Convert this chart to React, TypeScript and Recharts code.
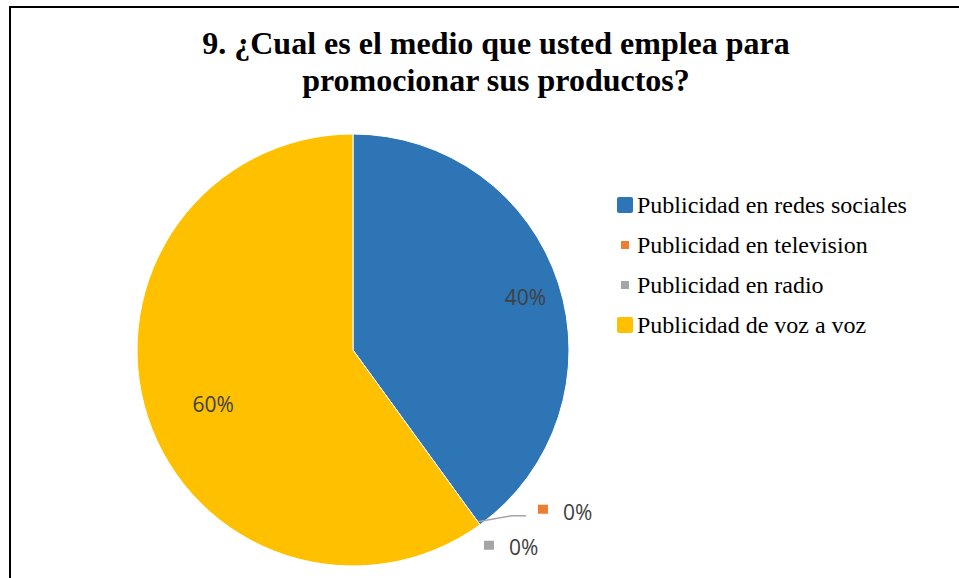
import { PieChart, Pie, Cell, Legend } from 'recharts';

const titleLines = ['9. ¿Cual es el medio que usted emplea para', 'promocionar sus productos?'];
const categories = [
  'Publicidad en redes sociales',
  'Publicidad en television',
  'Publicidad en radio',
  'Publicidad de voz a voz',
];
const values = [40, 0, 0, 60];
const colors = ['#2E75B6', '#ED7D31', '#A5A5A5', '#FFC000'];

const data = categories.map((name, i) => ({ name, value: values[i] }));
const total = values.reduce((a, b) => a + b, 0);
const RAD = Math.PI / 180;
const SERIF = '"Liberation Serif"';
const SANS = '"Open Sans"';

const pctText = (v: number) => `${Math.round((v / total) * 100)}%`;

function renderLabel(props: any) {
  const { cx, cy, midAngle, outerRadius, index, value } = props;
  const cos = Math.cos(-midAngle * RAD);
  const sin = Math.sin(-midAngle * RAD);
  const labelStyle = { fontFamily: SANS, fontSize: 21, fill: '#404040' };

  if (value > 0) {
    // Excel "best fit" puts the small slice's label further out
    const share = value / total;
    const r = outerRadius * (share < 0.5 ? 0.84 : 0.68);
    return (
      <text key={`l-${index}`} x={cx + r * cos} y={cy + r * sin + (share < 0.5 ? 3 : 9)} textAnchor="middle" dominantBaseline="central" {...labelStyle}>
        {pctText(value)}
      </text>
    );
  }

  // zero slices: labels pushed out next to the edge with a marker
  const ex = cx + outerRadius * cos;
  const ey = cy + outerRadius * sin;
  if (index === 1) {
    return (
      <g key={`l-${index}`}>
        <polyline points={`${ex - 2},${ey - 3} ${ex + 32},${ey - 9} ${ex + 46},${ey - 9}`} fill="none" stroke="#A6A6A6" strokeWidth={1.5} />
        <rect x={ex + 58} y={ey - 20} width={10} height={9} fill={colors[index]} />
        <text x={ex + 83} y={ey - 13} dominantBaseline="central" {...labelStyle}>{pctText(value)}</text>
      </g>
    );
  }
  return (
    <g key={`l-${index}`}>
      <rect x={ex + 4} y={ey + 16} width={10} height={9} fill={colors[index]} />
      <text x={ex + 29} y={ey + 22} dominantBaseline="central" {...labelStyle}>{pctText(value)}</text>
    </g>
  );
}

function LegendBox() {
  return (
    <div style={{ fontFamily: SERIF, fontSize: 24, color: '#000' }}>
      {categories.map((c, i) => {
        const big = values[i] > 0;
        const s = big ? 16 : 8;
        return (
          <div key={c} style={{ display: 'flex', alignItems: 'center', height: 40 }}>
            <div style={{ width: 16, display: 'flex', justifyContent: 'center' }}>
              <div style={{ width: s, height: s, background: colors[i], borderRadius: big ? 2 : 0 }} />
            </div>
            <span style={{ marginLeft: 4, whiteSpace: 'nowrap' }}>{c}</span>
          </div>
        );
      })}
    </div>
  );
}

export default function App() {
  return (
    <div style={{ position: 'fixed', left: 0, top: 0, width: 959, height: 578, overflow: 'hidden', background: '#fff' }}>
      <div style={{ position: 'absolute', left: 9, top: 6, width: 974, height: 600, border: '2px solid #000', boxSizing: 'border-box' }}>
        <PieChart width={970} height={596} margin={{ top: 0, right: 0, bottom: 0, left: 0 }}>
          <Pie
            data={data}
            dataKey="value"
            nameKey="name"
            cx={342}
            cy={342}
            outerRadius={216}
            startAngle={90}
            endAngle={-270}
            stroke="#fff"
            strokeWidth={1}
            label={renderLabel}
            labelLine={false}
            isAnimationActive={false}
          >
            {data.map((d, i) => (
              <Cell key={d.name} fill={colors[i]} />
            ))}
          </Pie>
          <Legend
            layout="vertical"
            content={() => <LegendBox />}
            wrapperStyle={{ position: 'absolute', left: 606, top: 177, width: 360 }}
          />
        </PieChart>
        <div
          style={{
            position: 'absolute',
            left: 0,
            top: 17,
            width: '100%',
            textAlign: 'center',
            fontFamily: SERIF,
            fontWeight: 'bold',
            fontSize: 32,
            lineHeight: '37px',
            color: '#000',
          }}
        >
          {titleLines.map((t) => (
            <div key={t}>{t}</div>
          ))}
        </div>
      </div>
    </div>
  );
}
